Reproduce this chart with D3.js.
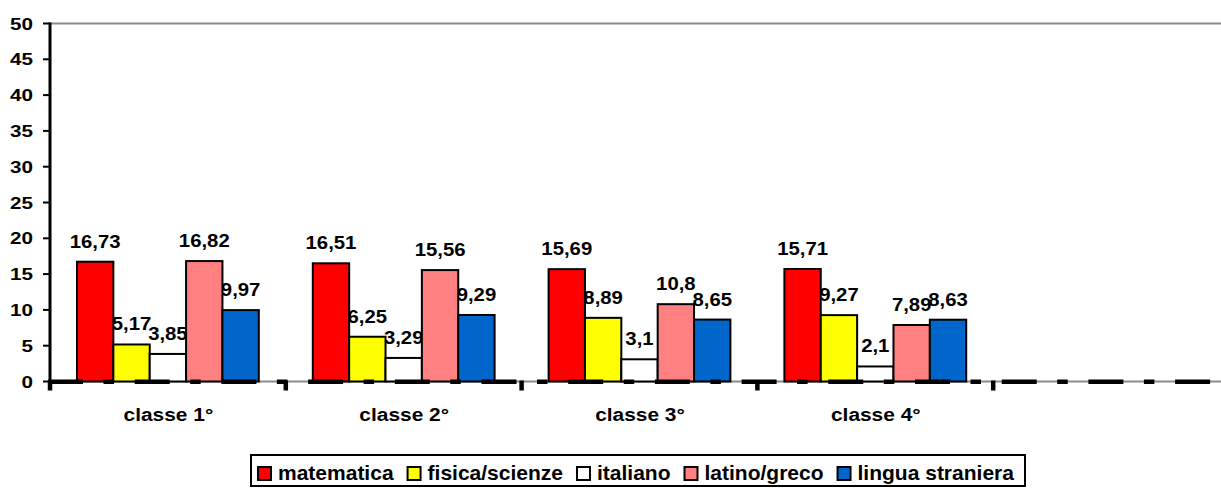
<!DOCTYPE html>
<html>
<head>
<meta charset="utf-8">
<script src="https://cdn.jsdelivr.net/npm/d3@7"></script>
<style>
    body { margin: 0; background: #fff; }
    text { font-family: "Liberation Sans", Arial, sans-serif; font-weight: bold; fill: #000; }
</style>
</head>
<body>
<div id="chart"></div>
<script>
// categories (5th slot is empty in the original chart)
var categories = ["classe 1°", "classe 2°", "classe 3°", "classe 4°", ""];
var series = ["matematica", "fisica/scienze", "italiano", "latino/greco", "lingua straniera"];
var colors = ["#ff0000", "#ffff00", "#ffffff", "#ff8080", "#0066cc"];

var matematica = [16.73, 16.51, 15.69, 15.71];
var fisica = [5.17, 6.25, 8.89, 9.27];
var italiano = [3.85, 3.29, 3.1, 2.1];
var latino = [16.82, 15.56, 10.8, 7.89];
var lingua = [9.97, 9.29, 8.65, 8.63];

var yTicks = [0, 5, 10, 15, 20, 25, 30, 35, 40, 45, 50];

var values = [matematica, fisica, italiano, latino, lingua];

var width = 1221, height = 488;
var plotLeft = 50, plotRight = 1229, plotTop = 23.5, plotBottom = 381.5;

var svg = d3.select("#chart").append("svg")
    .attr("width", width)
    .attr("height", height);

svg.append("rect").attr("width", width).attr("height", height).attr("fill", "#fff");

var x = d3.scaleBand()
    .domain(categories.map(function (d, i) { return i; }))
    .range([plotLeft, plotRight])
    .paddingInner(0.229)
    .paddingOuter(0.1145);

var xs = d3.scaleBand()
    .domain(series)
    .range([0, x.bandwidth()]);

var y = d3.scaleLinear()
    .domain([0, 50])
    .range([plotBottom, plotTop]);

var step = x.step();

// text that is a bit wider than plain Arial, like the original
function wideText(g, tx, ty, sx, str, anchor, size) {
    return g.append("text")
        .attr("transform", "translate(" + tx + "," + ty + ") scale(" + sx + ",1)")
        .attr("text-anchor", anchor)
        .style("font-size", size + "px")
        .text(str);
}

// plot area border (gray)
svg.append("rect")
    .attr("x", plotLeft).attr("y", plotTop)
    .attr("width", plotRight - plotLeft).attr("height", plotBottom - plotTop)
    .attr("fill", "none")
    .attr("stroke", "#8a8a8a")
    .attr("stroke-width", 2);

// flat list of bars
var bars = [];
values.forEach(function (arr, s) {
    arr.forEach(function (v, c) {
        bars.push({ cat: c, name: series[s], color: colors[s], value: v });
    });
});

// labels are drawn under the bars, as in the original
var labels = svg.append("g");
bars.forEach(function (d) {
    wideText(labels,
        x(d.cat) + xs(d.name) + xs.bandwidth() / 2,
        y(d.value) - 14,
        1.13, String(d.value).replace(".", ","), "middle", 18);
});

svg.append("g").selectAll("rect")
    .data(bars)
    .enter().append("rect")
    .attr("x", function (d) { return x(d.cat) + xs(d.name); })
    .attr("y", function (d) { return y(d.value); })
    .attr("width", xs.bandwidth())
    .attr("height", function (d) { return y(0) - y(d.value); })
    .attr("fill", function (d) { return d.color; })
    .attr("stroke", "#000")
    .attr("stroke-width", 2);

// x axis: dash-dot black line over the gray border
svg.append("line")
    .attr("x1", plotLeft - 2).attr("x2", width)
    .attr("y1", plotBottom + 0.3).attr("y2", plotBottom + 0.3)
    .attr("stroke", "#000")
    .attr("stroke-width", 4.5)
    .attr("stroke-dasharray", "35,20.5,10.5,20.7");

// category boundary ticks
svg.append("g").selectAll("line")
    .data(d3.range(categories.length + 1))
    .enter().append("line")
    .attr("x1", function (i) { return plotLeft + i * step; })
    .attr("x2", function (i) { return plotLeft + i * step; })
    .attr("y1", plotBottom - 1)
    .attr("y2", plotBottom + 9)
    .attr("stroke", "#000")
    .attr("stroke-width", 4.5);

// category labels
var catLabels = svg.append("g");
categories.forEach(function (d, i) {
    wideText(catLabels, x(i) + x.bandwidth() / 2 + 0.5, 421, 1.1, d, "middle", 19);
});

// y axis
svg.append("line")
    .attr("x1", plotLeft).attr("x2", plotLeft)
    .attr("y1", plotTop - 1).attr("y2", plotBottom + 4)
    .attr("stroke", "#000")
    .attr("stroke-width", 3);

var yAxis = svg.append("g");
yAxis.selectAll("line")
    .data(yTicks)
    .enter().append("line")
    .attr("x1", plotLeft - 7).attr("x2", plotLeft)
    .attr("y1", function (d) { return y(d); })
    .attr("y2", function (d) { return y(d); })
    .attr("stroke", "#000")
    .attr("stroke-width", 2);

yTicks.forEach(function (d) {
    wideText(yAxis, 33, y(d) + 6, 1.25, d, "end", 16.5);
});

// legend
var legend = svg.append("g");
legend.append("rect")
    .attr("x", 251).attr("y", 455)
    .attr("width", 774).attr("height", 31)
    .attr("fill", "#fff")
    .attr("stroke", "#000")
    .attr("stroke-width", 2);

var lx = 258;
series.forEach(function (name, i) {
    legend.append("rect")
        .attr("x", lx).attr("y", 467)
        .attr("width", 13).attr("height", 13)
        .attr("fill", colors[i])
        .attr("stroke", "#000")
        .attr("stroke-width", 2);
    var t = legend.append("text")
        .attr("x", lx + 20)
        .attr("y", 480)
        .style("font-size", "21px")
        .text(name);
    lx = lx + 20 + t.node().getComputedTextLength() + 14;
});
</script>
</body>
</html>
